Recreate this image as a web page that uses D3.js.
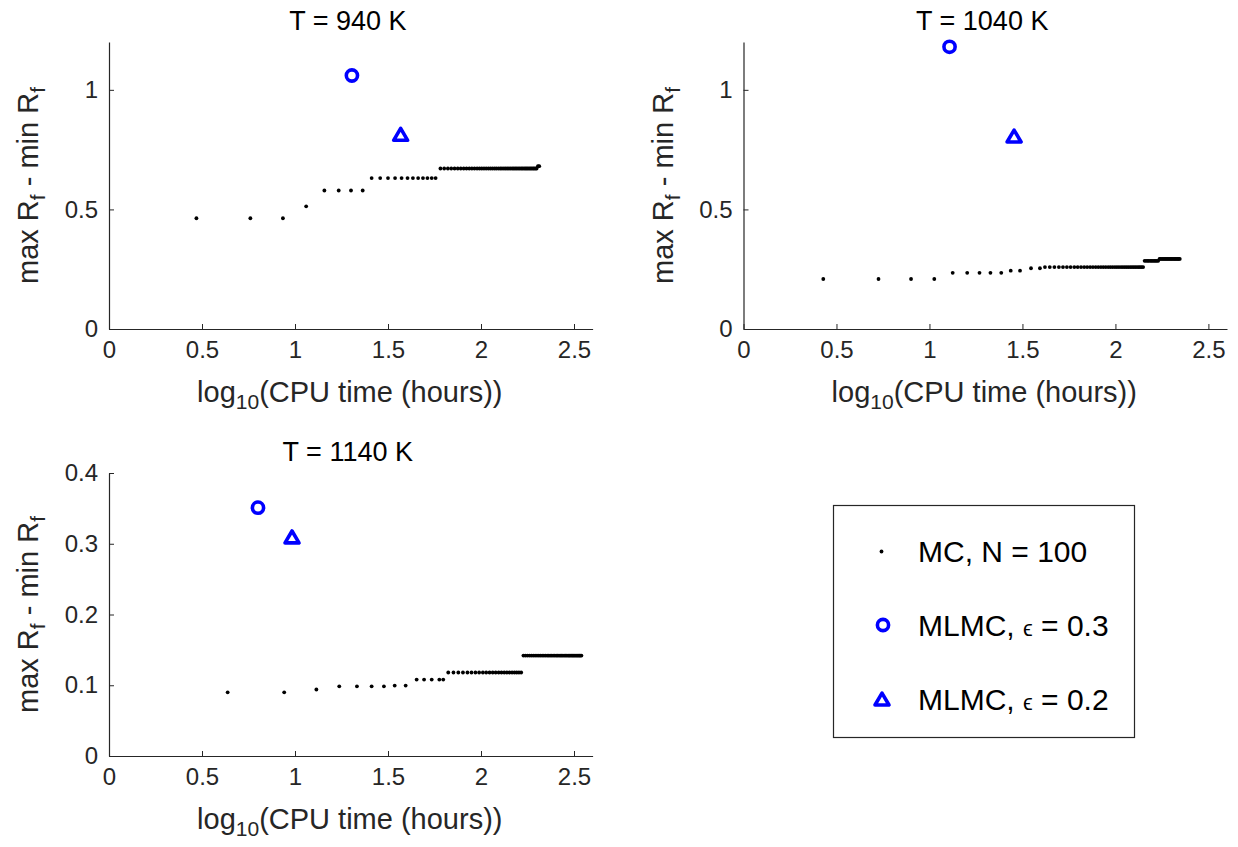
<!DOCTYPE html>
<html><head><meta charset="utf-8">
<script src="https://cdn.jsdelivr.net/npm/d3@7"></script>
<style>
body{margin:0;background:#fff;}
svg{display:block;font-family:"Liberation Sans",Arial,Helvetica,sans-serif;}
</style></head><body>
<svg id="chart" width="1238" height="847"></svg>
<script>
// ---------------- data ----------------
const xTicks = [0, 0.5, 1, 1.5, 2, 2.5];
const yTicksTop = [0, 0.5, 1];
const yTicksBottom = [0, 0.1, 0.2, 0.3, 0.4];
const panelTitles = ["T = 940 K", "T = 1040 K", "T = 1140 K"];
const legendLabels = ["MC, N = 100", "MLMC, ", "MLMC, "];
const legendEps = ["", "0.3", "0.2"];

// MC (N = 100): step levels (y) and the log10 CPU times (x) at each level
const mc940Y = [0.463, 0.513, 0.579, 0.631, 0.671, 0.681];
const mc940X = [
  [0.47, 0.76, 0.935],
  [1.06],
  [1.158, 1.235, 1.301, 1.364],
  [1.412, 1.458, 1.500, 1.538, 1.573, 1.605, 1.634, 1.662, 1.688, 1.712, 1.735, 1.756],
  [1.782, 1.802, 1.822, 1.840, 1.858, 1.875, 1.891, 1.907, 1.922, 1.937, 1.951, 1.965, 1.979,
   1.992, 2.004, 2.016, 2.028, 2.040, 2.051, 2.062, 2.073, 2.083, 2.094, 2.104, 2.113, 2.123,
   2.132, 2.141, 2.150, 2.159, 2.168, 2.176, 2.184, 2.192, 2.200, 2.208, 2.216, 2.223, 2.231,
   2.238, 2.245, 2.252, 2.259, 2.266, 2.273, 2.280, 2.286, 2.293, 2.299],
  [2.306, 2.313]
];

const mc1040Y = [0.209, 0.235, 0.244, 0.254, 0.259, 0.285, 0.293];
const mc1040X = [
  [0.429, 0.726, 0.901, 1.026],
  [1.125, 1.203, 1.269, 1.328, 1.386],
  [1.437, 1.487],
  [1.546, 1.594],
  [1.621, 1.647, 1.672, 1.696, 1.718, 1.739, 1.759, 1.779, 1.797, 1.815, 1.832, 1.848, 1.864,
   1.879, 1.894, 1.908, 1.922, 1.935, 1.948, 1.961, 1.973, 1.985, 1.997, 2.008, 2.019, 2.030,
   2.040, 2.050, 2.060, 2.070, 2.080, 2.089, 2.098, 2.107, 2.116, 2.125, 2.133, 2.141, 2.149],
  [2.157, 2.165, 2.173, 2.180, 2.188, 2.195, 2.202, 2.209, 2.216, 2.223, 2.230],
  [2.237, 2.243, 2.250, 2.256, 2.262, 2.268, 2.274, 2.280, 2.286, 2.292, 2.298, 2.303, 2.309,
   2.315, 2.320, 2.325, 2.331, 2.336, 2.341, 2.346]
];

const mc1140Y = [0.090, 0.094, 0.0985, 0.0995, 0.108, 0.118, 0.142];
const mc1140X = [
  [0.638, 0.942],
  [1.115],
  [1.238, 1.333, 1.412, 1.478],
  [1.536, 1.595],
  [1.654, 1.694, 1.735, 1.776, 1.797],
  [1.824, 1.852, 1.878, 1.903, 1.927, 1.949, 1.970, 1.990, 2.010, 2.028, 2.046, 2.063, 2.079,
   2.095, 2.110, 2.125, 2.139, 2.153, 2.167, 2.180, 2.192, 2.204, 2.216],
  [2.228, 2.239, 2.250, 2.261, 2.271, 2.281, 2.291, 2.301, 2.311, 2.320, 2.329, 2.338, 2.347,
   2.356, 2.364, 2.372, 2.380, 2.388, 2.396, 2.404, 2.411, 2.419, 2.426, 2.433, 2.440, 2.447,
   2.454, 2.461, 2.468, 2.474, 2.480, 2.487, 2.493, 2.499, 2.505, 2.511, 2.517, 2.523, 2.529,
   2.534, 2.540]
];

// MLMC results per panel (940 K, 1040 K, 1140 K)
const mlmc03X = [1.306, 1.108, 0.801];
const mlmc03Y = [1.060, 1.180, 0.351];
const mlmc02X = [1.568, 1.455, 0.984];
const mlmc02Y = [0.812, 0.805, 0.309];

// ---------------- layout ----------------
const INK = "#262626";
const BLUE = "#0000ff";
const svg = d3.select("#chart");

const panels = [
  {x0: 109, x1: 592.6, yTop: 42, yBot: 329, yMax: 1.2, yTicks: yTicksTop, mcX: mc940X, mcY: mc940Y},
  {x0: 743.5, x1: 1227, yTop: 42, yBot: 329, yMax: 1.2, yTicks: yTicksTop, mcX: mc1040X, mcY: mc1040Y},
  {x0: 109, x1: 592.6, yTop: 473, yBot: 756, yMax: 0.4, yTicks: yTicksBottom, mcX: mc1140X, mcY: mc1140Y}
];

const triPath = "M0,-6.4L7,5.5L-7,5.5Z";

panels.forEach((p, i) => {
  const x = d3.scaleLinear().domain([0, 2.6]).range([p.x0, p.x1]);
  const y = d3.scaleLinear().domain([0, p.yMax]).range([p.yBot, p.yTop]);
  const g = svg.append("g");

  // axes
  const xAxis = d3.axisBottom(x).tickValues(xTicks).tickFormat(d => String(d))
    .tickSizeInner(-5).tickSizeOuter(0).tickPadding(12);
  const yAxis = d3.axisLeft(y).tickValues(p.yTicks).tickFormat(d => String(d))
    .tickSizeInner(-5).tickSizeOuter(0).tickPadding(11);

  const gx = g.append("g").attr("transform", `translate(0,${p.yBot})`).call(xAxis);
  const gy = g.append("g").attr("transform", `translate(${p.x0},0)`).call(yAxis);
  [gx, gy].forEach(a => {
    a.select(".domain").attr("stroke", INK).attr("stroke-width", 1.2);
    a.selectAll(".tick line").attr("stroke", INK).attr("stroke-width", 1);
    a.selectAll(".tick text").attr("fill", INK).style("font-size", "24px")
      .style("font-family", '"Liberation Sans",Arial,sans-serif');
  });

  // title
  g.append("text").attr("x", (p.x0 + p.x1) / 2 - 3).attr("y", p.yTop - 12)
    .attr("text-anchor", "middle").attr("fill", "#000").style("font-size", "27px")
    .text(panelTitles[i]);

  // x label
  const xl = g.append("text").attr("x", (p.x0 + p.x1) / 2 - 1).attr("y", p.yBot + 73)
    .attr("text-anchor", "middle").attr("fill", INK).style("font-size", "29px");
  xl.append("tspan").text("log");
  xl.append("tspan").attr("dy", 7).style("font-size", "21px").text("10");
  xl.append("tspan").attr("dy", -7).text("(CPU time (hours))");

  // y label
  const cy = (p.yTop + p.yBot) / 2;
  const yl = g.append("text")
    .attr("transform", `translate(${p.x0 - 71},${cy}) rotate(-90)`)
    .attr("text-anchor", "middle").attr("fill", INK).style("font-size", "29px");
  yl.append("tspan").text("max R");
  yl.append("tspan").attr("dy", 7).style("font-size", "21px").text("f");
  yl.append("tspan").attr("dy", -7).text(" - min R");
  yl.append("tspan").attr("dy", 7).style("font-size", "21px").text("f");

  // MC dots
  const pts = [];
  p.mcX.forEach((xs, k) => xs.forEach(v => pts.push([v, p.mcY[k]])));
  g.append("g").selectAll("circle").data(pts).join("circle")
    .attr("cx", d => x(d[0])).attr("cy", d => y(d[1])).attr("r", 1.9).attr("fill", "#000");

  // MLMC eps = 0.3 (circle)
  g.append("circle").attr("cx", x(mlmc03X[i])).attr("cy", y(mlmc03Y[i])).attr("r", 5.6)
    .attr("fill", "none").attr("stroke", BLUE).attr("stroke-width", 3.6);
  // MLMC eps = 0.2 (triangle)
  g.append("path").attr("d", triPath)
    .attr("transform", `translate(${x(mlmc02X[i])},${y(mlmc02Y[i])})`)
    .attr("fill", "none").attr("stroke", BLUE).attr("stroke-width", 3.6)
    .attr("stroke-linejoin", "round");
});

// ---------------- legend ----------------
const lg = svg.append("g");
lg.append("rect").attr("x", 833.5).attr("y", 505.5).attr("width", 301).attr("height", 232)
  .attr("fill", "#fff").attr("stroke", INK).attr("stroke-width", 1.2);
const rowY = [551.5, 625, 699.5];
lg.append("circle").attr("cx", 881.5).attr("cy", rowY[0]).attr("r", 1.9).attr("fill", "#000");
lg.append("circle").attr("cx", 883).attr("cy", rowY[1]).attr("r", 5.6)
  .attr("fill", "none").attr("stroke", BLUE).attr("stroke-width", 3.6);
lg.append("path").attr("d", triPath).attr("transform", `translate(882,${rowY[2]})`)
  .attr("fill", "none").attr("stroke", BLUE).attr("stroke-width", 3.6).attr("stroke-linejoin", "round");
legendLabels.forEach((lab, k) => {
  const t = lg.append("text").attr("x", 918).attr("y", rowY[k] + 10.5)
    .attr("fill", "#000").style("font-size", "30px");
  t.append("tspan").text(lab);
  if (legendEps[k]) {
    t.append("tspan").style("font-size", "22px").text("ϵ");
    t.append("tspan").text(" = " + legendEps[k]);
  }
});
</script>
</body></html>
